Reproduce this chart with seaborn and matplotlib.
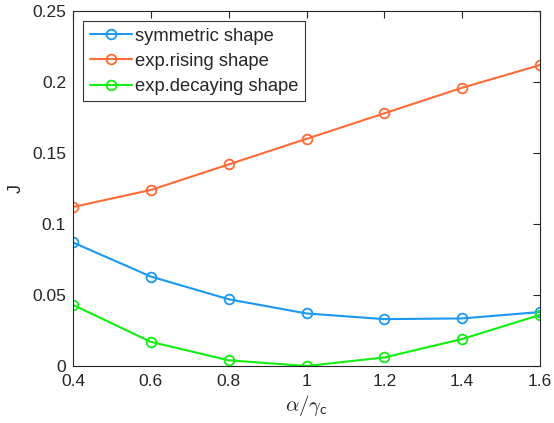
import pandas as pd
import matplotlib
matplotlib.use('Agg')
import matplotlib.pyplot as plt
import seaborn as sns
from matplotlib.ticker import FuncFormatter

# Data
ratio = [0.4, 0.6, 0.8, 1.0, 1.2, 1.4, 1.6]
symmetric = [0.087, 0.063, 0.047, 0.037, 0.033, 0.0335, 0.038]
rising = [0.112, 0.124, 0.142, 0.160, 0.178, 0.196, 0.212]
decaying = [0.043, 0.017, 0.004, 0.0, 0.006, 0.019, 0.036]

labels = ['symmetric shape', 'exp.rising shape', 'exp.decaying shape']
colors = ['#1a98f2', '#ff6a35', '#10f010']

sns.set_style("white")
plt.rcParams['font.family'] = ['Liberation Sans', 'DejaVu Sans']
plt.rcParams['mathtext.fontset'] = 'cm'

fig = plt.figure(figsize=(5.54, 4.23), dpi=100)
ax = fig.add_axes([0.1318, 0.1348, 0.843, 0.839])

for vals, lab, col in zip([symmetric, rising, decaying], labels, colors):
    df = pd.DataFrame({'x': ratio, 'J': vals})
    sns.lineplot(data=df, x='x', y='J', ax=ax, color=col, label=lab, linewidth=1.5,
                 marker='o', markersize=7, markerfacecolor='none', markeredgecolor=col,
                 markeredgewidth=1.3)

ax.set_xlim(0.4, 1.6)
ax.set_ylim(0, 0.25)
ax.set_xticks(ratio)
ax.set_yticks([0, 0.05, 0.1, 0.15, 0.2, 0.25])
fmt = FuncFormatter(lambda v, _: '{:g}'.format(round(v, 3)))
ax.xaxis.set_major_formatter(fmt)
ax.yaxis.set_major_formatter(fmt)
ax.tick_params(direction='in', top=True, right=True, length=5, width=0.8,
               labelsize=12.5, colors='#262626')
ax.tick_params(axis='x', pad=6)
ax.tick_params(axis='y', pad=5)
for s in ax.spines.values():
    s.set_visible(True)
    s.set_color('#262626')
    s.set_linewidth(0.8)

ax.set_xlabel(r'$\alpha/\gamma_{\mathsf{c}}$', fontsize=15, color='#262626', labelpad=3)
ax.set_ylabel('J', fontsize=13, color='#262626', labelpad=5)

leg = ax.legend(loc='upper left', fontsize=13.2, frameon=True, fancybox=False,
                edgecolor='black', handlelength=2.3, handletextpad=0.2,
                borderpad=0.35, labelspacing=0.45, borderaxespad=0.55)
leg.get_frame().set_linewidth(0.8)

fig.savefig('out.png', dpi=100)
